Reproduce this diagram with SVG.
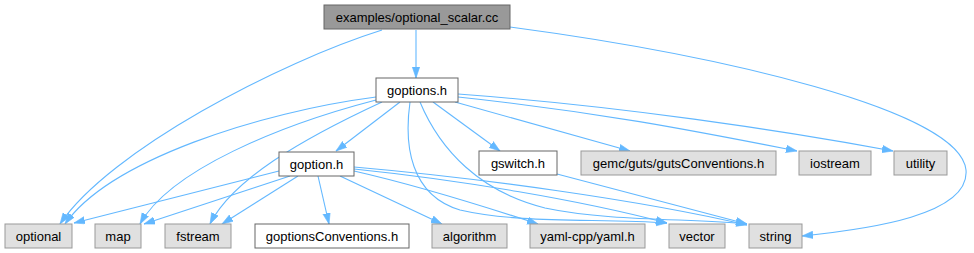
<svg xmlns="http://www.w3.org/2000/svg" width="974" height="253" viewBox="0 0 974 253">
<style>
.n rect{stroke-width:1}
.root rect{fill:#999999;stroke:#666666}
.doc rect{fill:#ffffff;stroke:#666666}
.ext rect{fill:#e0e0e0;stroke:#999999}
text{font-family:"Liberation Sans",Arial,Helvetica,sans-serif;font-size:13px;fill:#000;text-anchor:middle}
.e path{fill:none;stroke:#63b8ff;stroke-width:1.1;marker-end:url(#a)}
</style>
<defs>
<marker id="a" markerUnits="userSpaceOnUse" markerWidth="12" markerHeight="9" refX="11" refY="4" orient="auto" viewBox="0 0 12 9">
<path d="M0,0.3 L11,4 L0,7.7 z" fill="#63b8ff" stroke="#63b8ff" stroke-width="0.6"/>
</marker>
</defs>
<rect width="974" height="253" fill="#ffffff"/>
<g id="edges" class="e">
<path d="M416,30 L416,78"/>
<path d="M382,30 C280,62 110,150 60,224"/>
<path d="M510,27 C720,55 960,110 966,170 C970,215 870,229 802,236"/>
<path d="M400,102 L336,151"/>
<path d="M433,102 L500,151"/>
<path d="M455,102 L630,151"/>
<path d="M458,97 C600,112 700,132 797,151"/>
<path d="M458,94 C620,106 780,130 893,151"/>
<path d="M376,97 C260,112 110,160 65,224"/>
<path d="M376,100 C280,125 170,170 140,224"/>
<path d="M382,102 C300,140 232,180 210,224"/>
<path d="M410,102 C404,145 410,195 460,210 C520,224 600,218 667,223"/>
<path d="M420,102 C440,150 480,192 545,208 C610,222 700,218 747,224"/>
<path d="M279,171 L74,223"/>
<path d="M290,176 L144,224"/>
<path d="M298,176 L222,224"/>
<path d="M318,176 L329,224"/>
<path d="M340,176 L442,224"/>
<path d="M354,171 C420,186 480,205 538,224"/>
<path d="M354,169 C460,180 580,200 667,223"/>
<path d="M354,167 C480,178 640,200 747,225"/>
<path d="M557,174 L747,224"/>
</g>
<g id="n_optional_scalar" class="n root"><rect x="324" y="5" width="186" height="24"/><text x="417" y="21.5">examples/optional_scalar.cc</text></g>
<g id="n_goptions" class="n doc"><rect x="376" y="78" width="82" height="24"/><text x="417" y="94.5">goptions.h</text></g>
<g id="n_goption" class="n doc"><rect x="279" y="152" width="75" height="24"/><text x="316.5" y="168.5">goption.h</text></g>
<g id="n_gswitch" class="n doc"><rect x="479" y="151" width="78" height="24"/><text x="518" y="167.5">gswitch.h</text></g>
<g id="n_gutsConventions" class="n ext"><rect x="581" y="151" width="195" height="24"/><text x="678.5" y="167.5">gemc/guts/gutsConventions.h</text></g>
<g id="n_iostream" class="n ext"><rect x="799" y="151" width="72" height="24"/><text x="835" y="167.5">iostream</text></g>
<g id="n_utility" class="n ext"><rect x="894" y="151" width="53" height="24"/><text x="920.5" y="167.5">utility</text></g>
<g id="n_optional" class="n ext"><rect x="5" y="224" width="67" height="24"/><text x="38.5" y="240.5">optional</text></g>
<g id="n_map" class="n ext"><rect x="95" y="224" width="46" height="24"/><text x="118" y="240.5">map</text></g>
<g id="n_fstream" class="n ext"><rect x="165" y="224" width="66" height="24"/><text x="198" y="240.5">fstream</text></g>
<g id="n_goptionsConventions" class="n doc"><rect x="255" y="224" width="154" height="24"/><text x="332" y="240.5">goptionsConventions.h</text></g>
<g id="n_algorithm" class="n ext"><rect x="432" y="224" width="75" height="24"/><text x="469.5" y="240.5">algorithm</text></g>
<g id="n_yaml" class="n ext"><rect x="530" y="224" width="115" height="24"/><text x="587.5" y="240.5">yaml-cpp/yaml.h</text></g>
<g id="n_vector" class="n ext"><rect x="669" y="224" width="56" height="24"/><text x="697" y="240.5">vector</text></g>
<g id="n_string" class="n ext"><rect x="749" y="224" width="53" height="24"/><text x="775.5" y="240.5">string</text></g>
</svg>
